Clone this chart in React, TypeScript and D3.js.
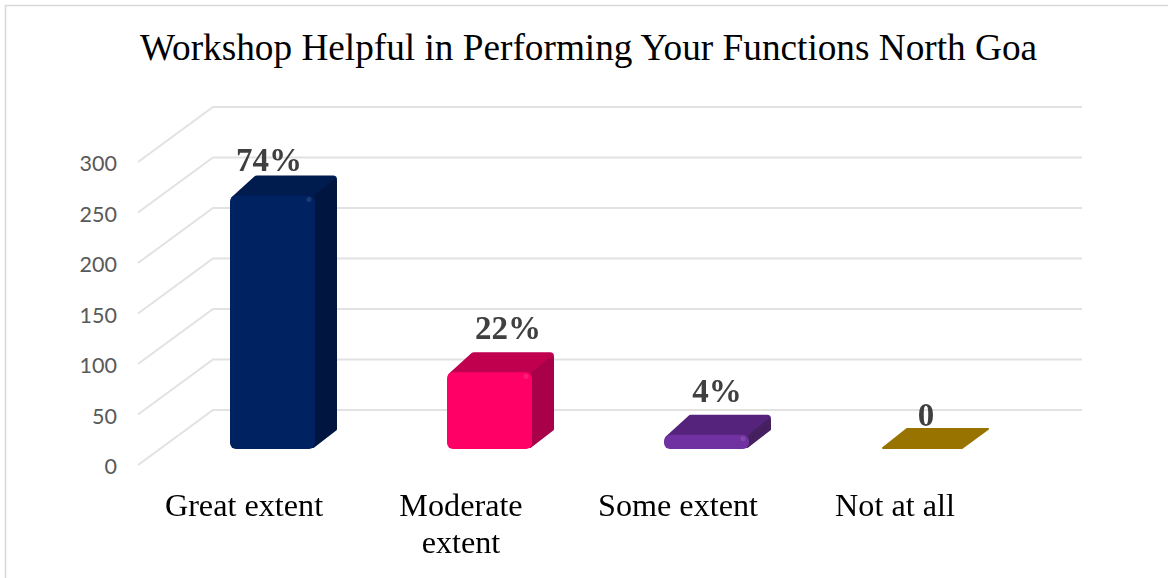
import React, { useEffect, useRef } from 'react';
import * as d3 from 'd3';

const title = 'Workshop Helpful in Performing Your Functions North Goa';
const categories = ['Great extent', 'Moderate extent', 'Some extent', 'Not at all'];
const values = [250, 75, 13, 0];
const dataLabels = ['74%', '22%', '4%', '0'];
const yTicks = [0, 50, 100, 150, 200, 250, 300];

const frontColors = ['#002060', '#ff0066', '#7030a0', '#997300'];
const topColors = ['#001a50', '#c00050', '#54247c', '#997300'];
const sideColors = ['#00163f', '#a8004a', '#45205f', '#997300'];

const width = 1168;
const height = 578;
const wallDx = 75;
const wallDy = -55;
const barDx = 23;
const barDy = 19;
const barWidth = 83;
const floorY = 448;
// hand nudges for the data labels, relative to the bar's left edge / back top
const labelDx = [39, 61, 53, 45];
const labelDy = [-2, -10, -10, 1];

const App: React.FC = () => {
  const svgRef = useRef<SVGSVGElement | null>(null);

  useEffect(() => {
    if (!svgRef.current) return;

    const svg = d3.select(svgRef.current);
    svg.selectAll('*').remove();

    svg.append('rect').attr('width', width).attr('height', height).attr('fill', '#ffffff');

    // chart frame, only top and left show up
    svg.append('path')
      .attr('d', 'M5.5,578V5.5H1168')
      .attr('fill', 'none')
      .attr('stroke', '#d9d9d9')
      .attr('stroke-width', 1.5);

    svg.append('text')
      .attr('x', 588.5)
      .attr('y', 60)
      .attr('text-anchor', 'middle')
      .attr('font-family', '"Liberation Serif"')
      .attr('font-size', 37.25)
      .attr('fill', '#000000')
      .text(title);

    const y = d3.scaleLinear().domain([0, 300]).range([465, 162]);
    const x = d3.scaleBand<string>().domain(categories).range([135.5, 1003.5]);
    const barY = d3.scaleLinear().domain([0, 300]).range([floorY, floorY - 303]);

    // Draw the wall and side grid
    const grid = svg.append('g').attr('fill', 'none').attr('stroke', '#e2e2e2').attr('stroke-width', 2);
    yTicks.forEach((t) => {
      const line = d3.line()([
        [138, y(t)],
        [138 + wallDx, y(t) + wallDy],
        [1082, y(t) + wallDy],
      ]);
      grid.append('path').attr('d', line);
    });

    svg.append('g')
      .selectAll('text')
      .data(yTicks)
      .enter()
      .append('text')
      .attr('x', 117)
      .attr('y', (d) => y(d) + 9)
      .attr('text-anchor', 'end')
      .attr('font-family', 'Lato')
      .attr('font-size', 21.5)
      .attr('fill', '#595959')
      .text((d) => d);

    const defs = svg.append('defs');
    defs.append('filter')
      .attr('id', 'soft')
      .append('feGaussianBlur')
      .attr('stdDeviation', 0.6);

    // Draw bars: side, top, then front
    const bars = svg.append('g').attr('filter', 'url(#soft)');
    categories.forEach((cat, i) => {
      const left = (x(cat) as number) + x.bandwidth() / 2 - 14;
      const right = left + barWidth;
      const top = barY(values[i]);
      const poly = (pts: [number, number][], fill: string, r: number) => {
        bars.append('path')
          .attr('d', d3.line()(pts) + 'Z')
          .attr('fill', fill)
          .attr('stroke', fill)
          .attr('stroke-width', r)
          .attr('stroke-linejoin', 'round');
      };

      if (values[i] === 0) {
        poly([[left + 2, floorY], [left + barDx + 3, floorY - barDy], [right + barDx + 1, floorY - barDy], [right - 2, floorY]], frontColors[i], 2);
        return;
      }

      // top face runs under the front face so no white gap is left
      poly([[left + 5, top + 4], [left + barDx + 4, top - barDy + 3], [right + barDx - 3, top - barDy + 3], [right, top + 6]], topColors[i], 8);
      poly([[right, top + 4], [right + barDx - 1, top - barDy + 5], [right + barDx - 1, floorY - barDy], [right, floorY - 2]], sideColors[i], 4);

      bars.append('rect')
        .attr('x', left)
        .attr('y', top)
        .attr('width', barWidth + 2)
        .attr('height', floorY - top + 1)
        .attr('rx', 6)
        .attr('fill', frontColors[i]);

      // soft bevel highlight on the front top-right corner
      bars.append('circle')
        .attr('cx', right - 4)
        .attr('cy', top + 4)
        .attr('r', 2.5)
        .attr('fill', '#ffffff')
        .attr('opacity', 0.12);
    });

    // Data labels
    categories.forEach((cat, i) => {
      const left = (x(cat) as number) + x.bandwidth() / 2 - 14;
      svg.append('text')
        .attr('x', left + labelDx[i])
        .attr('y', barY(values[i]) - barDy - 4 + labelDy[i])
        .attr('text-anchor', 'middle')
        .attr('font-family', '"Liberation Serif"')
        .attr('font-weight', 700)
        .attr('font-size', 33)
        .attr('fill', '#404040')
        .text(dataLabels[i]);
    });

    // Category labels, wrapped on the space when too long for the band
    categories.forEach((cat) => {
      const lines = cat === 'Moderate extent' ? cat.split(' ') : [cat];
      const t = svg.append('text')
        .attr('text-anchor', 'middle')
        .attr('font-family', '"Liberation Serif"')
        .attr('font-size', 32.2)
        .attr('fill', '#000000');
      lines.forEach((l, j) => {
        t.append('tspan')
          .attr('x', (x(cat) as number) + x.bandwidth() / 2)
          .attr('y', 515.5 + j * 37)
          .text(l);
      });
    });
  }, []);

  return (
    <svg
      ref={svgRef}
      width={width}
      height={height}
      style={{ position: 'absolute', left: 0, top: 0, display: 'block' }}
    ></svg>
  );
};

export default App;
